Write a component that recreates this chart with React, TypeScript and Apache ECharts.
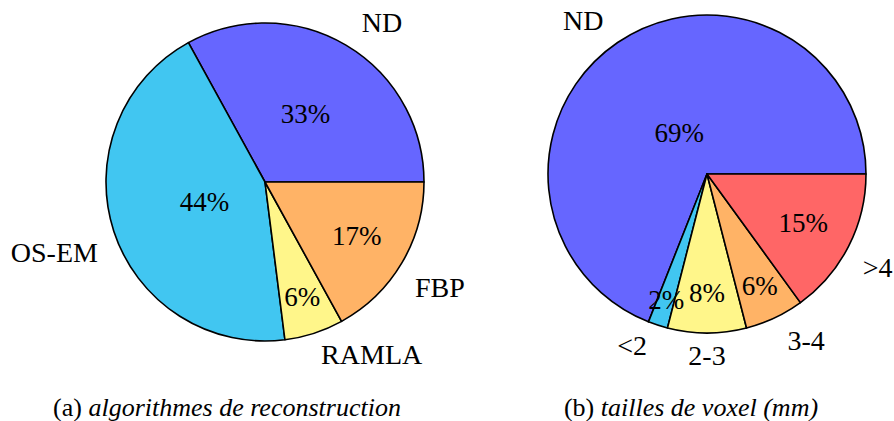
import { useEffect, useRef } from "react";
import * as echarts from "echarts";

// ---- data ----
const leftCategories = ["ND", "OS-EM", "RAMLA", "FBP"];
const leftValues = [33, 44, 6, 17];
const rightCategories = ["ND", "<2", "2-3", "3-4", ">4"];
const rightValues = [69, 2, 8, 6, 15];
const leftCaptionTag = "(a)";
const leftCaptionTitle = "algorithmes de reconstruction";
const rightCaptionTag = "(b)";
const rightCaptionTitle = "tailles de voxel (mm)";

// ---- styles / layout ----
const leftColors = ["#6666ff", "#41c6f1", "#fff68a", "#ffb366"];
const rightColors = ["#6666ff", "#41c6f1", "#fff68a", "#ffb366", "#ff6666"];
const RADIUS = 159;
const leftCenter = [265, 182];
const rightCenter = [707, 174];
// radial position of the percentage label, as a fraction of the radius (on the slice's mid angle)
const leftInnerFrac = [0.5, 0.4, 0.76, 0.67];
const rightInnerFrac = [0.31, 0.83, 0.75, 0.78, 0.68];
// polar placement [angle deg ccw from east, distance px] of the name labels
const leftOuterPolar = [[53.8, 198], [198.4, 222], [301.7, 203], [329, 204]];
const rightOuterPolar = [[128.9, 197], [246.4, 187], [270, 181], [300.7, 194], [331.3, 194.5]];
const FONT = "'Liberation Serif', 'DejaVu Serif', serif";
const LABEL_SIZE = 28;
const PCT_SIZE = 27;
const CAPTION_SIZE = 26;

function midAngles(values: number[]) {
  const total = values.reduce((a, b) => a + b, 0);
  let acc = 0;
  return values.map((v) => {
    const m = ((acc + v / 2) / total) * 360;
    acc += v;
    return m;
  });
}

function polar(center: number[], angDeg: number, d: number) {
  const r = (angDeg * Math.PI) / 180;
  return { x: center[0] + d * Math.cos(r), y: center[1] - d * Math.sin(r) };
}

function pieSeries(
  cats: string[],
  vals: number[],
  colors: string[],
  center: number[],
  innerFrac: number[],
  outerPolar: number[][]
) {
  const mids = midAngles(vals);
  const labelBase = {
    show: true,
    position: "inside",
    color: "#000",
    fontFamily: FONT,
    fontWeight: "normal",
  };
  const common = {
    type: "pie",
    center,
    radius: RADIUS,
    startAngle: 0,
    clockwise: false,
    silent: true,
    avoidLabelOverlap: false,
    emphasis: { disabled: true },
    labelLine: { show: false },
  };
  return [
    {
      ...common,
      data: cats.map((n, i) => ({ name: n, value: vals[i], itemStyle: { color: colors[i] } })),
      itemStyle: { borderColor: "#000", borderWidth: 1.6 },
      label: { ...labelBase, fontSize: PCT_SIZE, formatter: "{c}%" },
      labelLayout: (p: any) => {
        const pt = polar(center, mids[p.dataIndex], innerFrac[p.dataIndex] * RADIUS);
        return { x: pt.x, y: pt.y, align: "center", verticalAlign: "middle" };
      },
    },
    {
      ...common,
      data: cats.map((n, i) => ({ name: n, value: vals[i] })),
      itemStyle: { color: "rgba(0,0,0,0)", borderWidth: 0 },
      label: { ...labelBase, fontSize: LABEL_SIZE, formatter: "{b}" },
      labelLayout: (p: any) => {
        const [a, d] = outerPolar[p.dataIndex];
        const pt = polar(center, a, d);
        return { x: pt.x, y: pt.y, align: "center", verticalAlign: "middle" };
      },
    },
  ];
}

function caption(x: number, y: number, tag: string, title: string) {
  return {
    type: "text",
    x,
    y,
    style: {
      text: `{r|${tag}} {i|${title}}`,
      align: "center",
      verticalAlign: "middle",
      textAlign: "center",
      textVerticalAlign: "middle",
      fill: "#000",
      fontFamily: FONT,
      fontSize: CAPTION_SIZE,
      rich: {
        r: { fontFamily: FONT, fontSize: CAPTION_SIZE, fill: "#000", color: "#000" },
        i: { fontFamily: FONT, fontSize: CAPTION_SIZE, fontStyle: "italic", fill: "#000", color: "#000" },
      },
    },
  };
}

export default function App() {
  const ref = useRef<HTMLDivElement>(null);
  useEffect(() => {
    if (!ref.current) return;
    const chart = echarts.init(ref.current, undefined, { renderer: "svg" });
    chart.setOption({
      animation: false,
      backgroundColor: "#ffffff",
      series: [
        ...pieSeries(leftCategories, leftValues, leftColors, leftCenter, leftInnerFrac, leftOuterPolar),
        ...pieSeries(rightCategories, rightValues, rightColors, rightCenter, rightInnerFrac, rightOuterPolar),
      ],
      graphic: [
        caption(227, 407, leftCaptionTag, leftCaptionTitle),
        caption(691, 407, rightCaptionTag, rightCaptionTitle),
      ],
    } as any);
    return () => chart.dispose();
  }, []);
  return (
    <div
      ref={ref}
      style={{ position: "fixed", left: 0, top: 0, width: 894, height: 421 }}
    />
  );
}
